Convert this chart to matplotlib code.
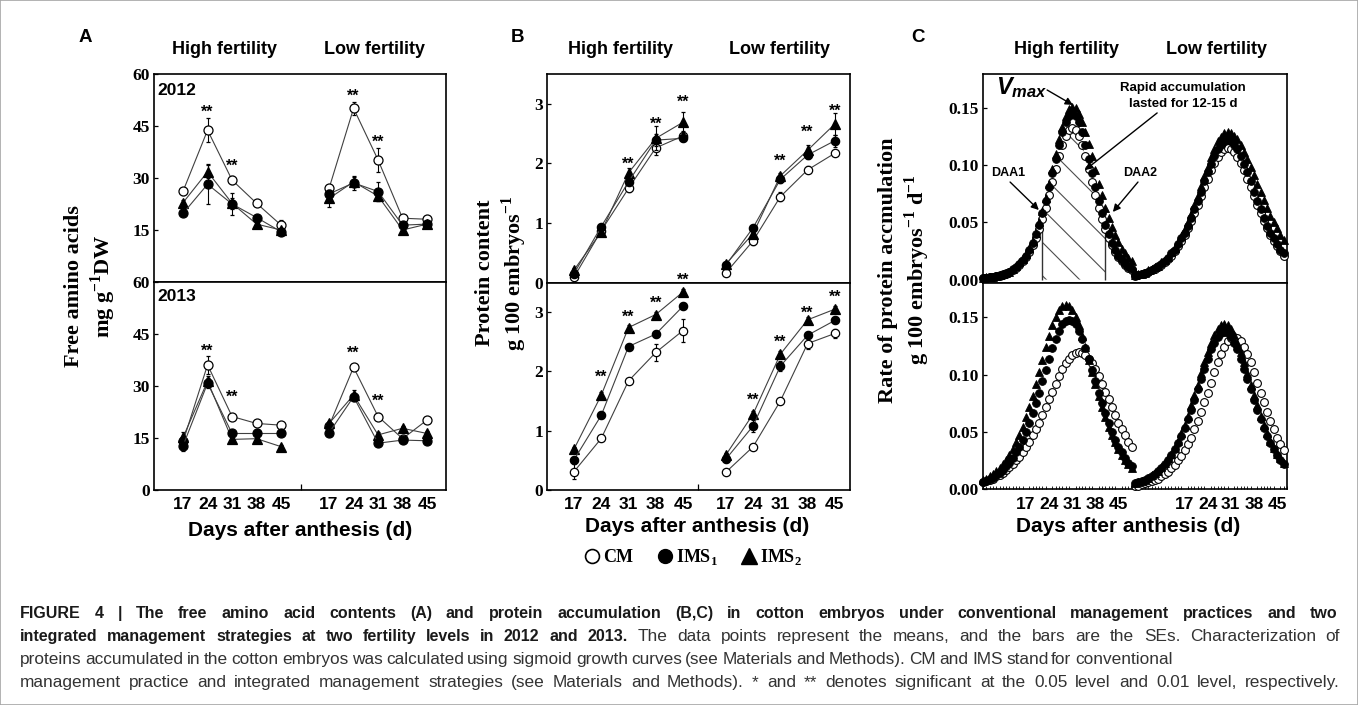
import numpy as np
import matplotlib
matplotlib.use('Agg')
import matplotlib.pyplot as plt
from matplotlib.lines import Line2D
from matplotlib.patches import Rectangle
from matplotlib.ticker import MultipleLocator

plt.rcParams['font.family'] = ['Liberation Sans', 'DejaVu Sans']
plt.rcParams['font.weight'] = 'bold'
plt.rcParams['mathtext.fontset'] = 'custom'
plt.rcParams['mathtext.it'] = 'Liberation Sans:bold:italic'
plt.rcParams['mathtext.rm'] = 'Liberation Sans:bold'
plt.rcParams['hatch.linewidth'] = 0.8

# ---------------- data ----------------
days = [17, 24, 31, 38, 45]

# A: free amino acids (mg g-1 DW)
a12_high_cm = [26.2, 43.8, 29.4, 22.7, 16.4]
a12_high_ims1 = [19.8, 28.2, 22.5, 18.6, 14.5]
a12_high_ims2 = [22.9, 31.8, 22.7, 16.7, 15.0]
a12_low_cm = [27.0, 50.1, 35.2, 18.4, 18.1]
a12_low_ims1 = [25.4, 28.6, 26.1, 16.4, 16.7]
a12_low_ims2 = [24.1, 28.9, 24.8, 15.0, 16.7]
a13_high_cm = [14.0, 36.1, 21.2, 19.2, 18.7]
a13_high_ims1 = [12.8, 30.8, 16.3, 16.3, 16.3]
a13_high_ims2 = [15.2, 31.4, 14.6, 14.8, 12.5]
a13_low_cm = [18.5, 35.4, 21.2, 14.8, 20.2]
a13_low_ims1 = [16.5, 26.9, 13.5, 14.4, 14.2]
a13_low_ims2 = [19.2, 27.4, 15.9, 17.8, 16.3]

a12_high_cm_se = [1.0, 3.5, 1.2, 0.6, 1.5]
a12_high_ims1_se = [0.6, 5.8, 3.2, 0.8, 0.8]
a12_high_ims2_se = [0.8, 1.9, 1.5, 0.8, 0.5]
a12_low_cm_se = [1.0, 1.8, 3.4, 0.8, 0.8]
a12_low_ims1_se = [1.0, 2.0, 2.8, 0.8, 0.6]
a12_low_ims2_se = [2.5, 1.5, 1.5, 1.0, 0.6]
a13_high_cm_se = [1.0, 2.5, 0.8, 0.8, 0.8]
a13_high_ims1_se = [1.5, 1.5, 0.8, 0.8, 0.6]
a13_high_ims2_se = [1.5, 1.5, 1.0, 1.0, 0.6]
a13_low_cm_se = [0.8, 0.8, 1.0, 0.6, 0.8]
a13_low_ims1_se = [0.6, 1.2, 0.8, 0.6, 0.6]
a13_low_ims2_se = [0.8, 1.5, 0.8, 0.6, 0.8]

a_star_days = [24, 31]
a12_high_star_y = [50.4, 34.6]
a12_low_star_y = [54.8, 41.5]
a13_high_star_y = [41.2, 28.0]
a13_low_star_y = [40.6, 26.8]

# B: protein content (g 100 embryos-1)
b12_high_cm = [0.09, 0.87, 1.58, 2.26, 2.46]
b12_high_ims1 = [0.15, 0.94, 1.69, 2.39, 2.42]
b12_high_ims2 = [0.21, 0.85, 1.84, 2.42, 2.69]
b12_low_cm = [0.16, 0.70, 1.44, 1.89, 2.17]
b12_low_ims1 = [0.29, 0.92, 1.73, 2.14, 2.38]
b12_low_ims2 = [0.31, 0.82, 1.79, 2.22, 2.66]
b13_high_cm = [0.31, 0.87, 1.84, 2.32, 2.69]
b13_high_ims1 = [0.51, 1.26, 2.42, 2.63, 3.10]
b13_high_ims2 = [0.69, 1.60, 2.74, 2.96, 3.34]
b13_low_cm = [0.30, 0.73, 1.50, 2.47, 2.64]
b13_low_ims1 = [0.52, 1.08, 2.09, 2.61, 2.86]
b13_low_ims2 = [0.59, 1.28, 2.29, 2.87, 3.05]

b12_high_cm_se = [0.03, 0.05, 0.06, 0.12, 0.08]
b12_high_ims1_se = [0.03, 0.04, 0.05, 0.10, 0.05]
b12_high_ims2_se = [0.04, 0.05, 0.08, 0.20, 0.18]
b12_low_cm_se = [0.05, 0.07, 0.08, 0.06, 0.05]
b12_low_ims1_se = [0.03, 0.05, 0.06, 0.06, 0.10]
b12_low_ims2_se = [0.03, 0.05, 0.05, 0.08, 0.18]
b13_high_cm_se = [0.13, 0.04, 0.05, 0.15, 0.20]
b13_high_ims1_se = [0.04, 0.05, 0.05, 0.05, 0.05]
b13_high_ims2_se = [0.04, 0.05, 0.05, 0.05, 0.05]
b13_low_cm_se = [0.03, 0.05, 0.05, 0.10, 0.07]
b13_low_ims1_se = [0.04, 0.10, 0.08, 0.05, 0.05]
b13_low_ims2_se = [0.04, 0.05, 0.05, 0.05, 0.05]

b12_star_days = [31, 38, 45]
b12_high_star_y = [2.06, 2.73, 3.10]
b12_low_star_y = [2.11, 2.59, 2.95]
b13_star_days = [24, 31, 38, 45]
b13_high_star_y = [1.97, 2.99, 3.23, 3.61]
b13_low_star_y = [1.59, 2.56, 3.05, 3.32]

# C: rate of protein accumulation (g 100 embryos-1 d-1), one reading per day, days 5-50
c_days = np.arange(5, 51)
c12_high_cm = [.001, .001, .002, .002, .003, .003, .004, .005, .007, .008, .010, .013, .016, .020, .024, .030,
               .036, .044, .053, .063, .074, .085, .097, .108, .118, .126, .131, .133,
               .131, .126, .118, .108, .097, .085, .074, .063, .053, .044, .036, .030, .024, .020, .016, .013, .010, .008]
c12_high_ims1 = [.001, .001, .002, .002, .003, .004, .005, .006, .007, .009, .011, .014, .017, .021, .026, .032,
                 .040, .048, .058, .069, .081, .093, .106, .118, .129, .138, .143, .145,
                 .143, .138, .129, .118, .106, .093, .081, .069, .058, .048, .040, .032, .026, .021, .017, .014, .011, .009]
c12_high_ims2 = [.001, .002, .002, .002, .003, .004, .005, .006, .007, .009, .012, .015, .018, .022, .028, .034,
                 .041, .050, .060, .071, .084, .097, .110, .123, .134, .143, .149, .151,
                 .150, .145, .138, .129, .119, .108, .096, .084, .074, .063, .054, .046, .039, .033, .027, .023, .019, .016]
c12_low_cm = [.003, .004, .005, .006, .007, .008, .009, .011, .013, .015, .018, .021, .025, .029, .034, .039,
              .045, .051, .058, .065, .073, .081, .088, .096, .102, .107, .112, .114, .115,
              .114, .112, .107, .102, .096, .088, .081, .073, .065, .058, .051, .045, .039, .034, .029, .025, .021]
c12_low_ims1 = [.004, .004, .005, .006, .007, .008, .010, .012, .014, .016, .019, .023, .026, .031, .036, .041,
                .047, .054, .062, .069, .077, .086, .094, .101, .108, .114, .118, .121, .122,
                .121, .118, .114, .108, .101, .094, .086, .077, .069, .062, .054, .047, .041, .036, .031, .026, .023]
c12_low_ims2 = [.004, .005, .005, .006, .008, .009, .011, .012, .015, .017, .020, .024, .028, .033, .038, .044,
                .050, .057, .065, .073, .082, .091, .099, .107, .114, .121, .125, .128, .129,
                .128, .126, .123, .118, .112, .106, .099, .092, .084, .077, .070, .063, .056, .050, .045, .039, .035]
c13_high_cm = [.006, .007, .008, .009, .011, .012, .014, .017, .019, .022, .025, .028, .032, .037, .041, .047,
               .052, .058, .065, .072, .079, .085, .092, .099, .105, .110, .114, .117, .119, .120,
               .119, .117, .114, .110, .105, .099, .092, .085, .079, .072, .065, .058, .052, .047, .041, .037]
c13_high_ims1 = [.006, .007, .009, .010, .012, .014, .017, .020, .023, .027, .032, .037, .043, .050, .058, .066,
                 .075, .084, .094, .104, .114, .123, .131, .138, .144, .147, .148,
                 .147, .144, .138, .131, .123, .114, .104, .094, .084, .075, .066, .058, .050, .043, .037, .032, .027,
                 .023, .020]
c13_high_ims2 = [.008, .009, .011, .013, .016, .018, .022, .025, .030, .035, .041, .047, .054, .063, .072, .081,
                 .092, .102, .113, .124, .134, .143, .150, .156, .160, .161,
                 .160, .156, .150, .143, .134, .124, .113, .102, .092, .081, .072, .063, .054, .047, .041, .035, .030,
                 .025, .022, .018]
c13_low_cm = [.003, .003, .004, .005, .006, .007, .008, .009, .011, .013, .015, .018, .021, .025, .029, .034,
              .039, .045, .052, .059, .067, .076, .084, .093, .102, .111, .118, .124, .129, .132, .133,
              .132, .129, .124, .118, .111, .102, .093, .084, .076, .067, .059, .052, .045, .039, .034]
c13_low_ims1 = [.005, .006, .007, .008, .010, .011, .013, .016, .018, .022, .025, .030, .035, .040, .046, .053,
                .061, .069, .078, .087, .096, .105, .114, .122, .128, .133, .136, .137,
                .136, .133, .128, .122, .114, .105, .096, .087, .078, .069, .061, .053, .046, .040, .035, .030, .025,
                .022]
c13_low_ims2 = [.005, .006, .007, .008, .010, .012, .014, .016, .019, .023, .027, .031, .036, .042, .049, .056,
                .064, .073, .082, .091, .101, .111, .120, .128, .135, .140, .143, .144,
                .143, .140, .135, .128, .120, .111, .101, .091, .082, .073, .064, .056, .049, .042, .036, .031, .027,
                .023]

# ---------------- figure ----------------
W, H = 1358, 705
fig = plt.figure(figsize=(W / 100, H / 100), dpi=100)
fig.patches.append(Rectangle((0, 0), 1, 1, transform=fig.transFigure, fill=False, ec='0.65', lw=1.2))


def px_axes(left, top, right, bottom):
    return fig.add_axes([left / W, 1 - bottom / H, (right - left) / W, (bottom - top) / H])


def draw_group(ax, xs, cm, ims1, ims2, cm_se, ims1_se, ims2_se, ms):
    kw = dict(color='0.25', lw=0.8, ecolor='black', elinewidth=0.8, capsize=1.6, capthick=0.8,
              mec='black', mew=0.9)
    ax.errorbar(xs, cm, yerr=cm_se, fmt='-o', mfc='white', ms=ms, zorder=3, **kw)
    ax.errorbar(xs, ims2, yerr=ims2_se, fmt='-^', mfc='black', ms=ms + 0.8, zorder=4, **kw)
    ax.errorbar(xs, ims1, yerr=ims1_se, fmt='-o', mfc='black', ms=ms, zorder=5, **kw)


def stars(ax, xs, ys):
    for x, y in zip(xs, ys):
        ax.annotate('**', (x, y), xytext=(0, -6.5), textcoords='offset points', ha='center',
                    va='baseline', fontsize=11.5, fontweight='bold', annotation_clip=False, zorder=6)


def style(ax, xlim, ylim, yticks, ylabels, xticks=None, xlabels=None, mid=None):
    ax.set_xlim(xlim)
    ax.set_ylim(ylim)
    ax.set_yticks(yticks)
    ax.set_yticklabels(ylabels, fontfamily='Liberation Serif', fontweight='bold', fontsize=12.5)
    ax.tick_params(axis='y', direction='in', length=3, width=0.9, pad=3)
    for s in ax.spines.values():
        s.set_linewidth(1.2)
    if xticks is None:
        ax.tick_params(axis='x', bottom=False, labelbottom=False)
    else:
        ax.set_xticks(xticks)
        ax.set_xticklabels(xlabels, fontfamily='Liberation Sans', fontweight='bold', fontsize=12.5)
        ax.tick_params(axis='x', which='major', length=0, pad=5)
        if mid is not None:
            ax.set_xticks([mid], minor=True)
            ax.tick_params(axis='x', which='minor', direction='in', length=4, width=0.9)


lab5 = [str(d) for d in days]

# ---- Panel A ----
a_off, a_xlim, a_mid = 41.7, (8.7, 92.1), 50.7
axA1 = px_axes(154, 74, 446, 282)
axA2 = px_axes(154, 282, 446, 490)
xs1 = days
xs2 = [d + a_off for d in days]
draw_group(axA1, xs1, a12_high_cm, a12_high_ims1, a12_high_ims2, a12_high_cm_se, a12_high_ims1_se, a12_high_ims2_se, 6.5)
draw_group(axA1, xs2, a12_low_cm, a12_low_ims1, a12_low_ims2, a12_low_cm_se, a12_low_ims1_se, a12_low_ims2_se, 6.5)
draw_group(axA2, xs1, a13_high_cm, a13_high_ims1, a13_high_ims2, a13_high_cm_se, a13_high_ims1_se, a13_high_ims2_se, 6.5)
draw_group(axA2, xs2, a13_low_cm, a13_low_ims1, a13_low_ims2, a13_low_cm_se, a13_low_ims1_se, a13_low_ims2_se, 6.5)
stars(axA1, a_star_days, a12_high_star_y)
stars(axA1, [d + a_off for d in a_star_days], a12_low_star_y)
stars(axA2, a_star_days, a13_high_star_y)
stars(axA2, [d + a_off for d in a_star_days], a13_low_star_y)
style(axA1, a_xlim, (0, 60), [15, 30, 45, 60], ['15', '30', '45', '60'])
style(axA2, a_xlim, (0, 60), [0, 15, 30, 45, 60], ['0', '15', '30', '45', '60'], xs1 + xs2, lab5 + lab5, a_mid)
axA1.text(0.01, 0.923, '2012', transform=axA1.transAxes, fontsize=12.5, va='center')
axA2.text(0.01, 0.928, '2013', transform=axA2.transAxes, fontsize=12.5, va='center')

# ---- Panel B ----
b_off, b_xlim, b_mid = 39.0, (10.06, 87.9), 48.9
axB1 = px_axes(547, 74, 850, 282.5)
axB2 = px_axes(547, 282.5, 850, 490)
xb2 = [d + b_off for d in days]
draw_group(axB1, days, b12_high_cm, b12_high_ims1, b12_high_ims2, b12_high_cm_se, b12_high_ims1_se, b12_high_ims2_se, 6)
draw_group(axB1, xb2, b12_low_cm, b12_low_ims1, b12_low_ims2, b12_low_cm_se, b12_low_ims1_se, b12_low_ims2_se, 6)
draw_group(axB2, days, b13_high_cm, b13_high_ims1, b13_high_ims2, b13_high_cm_se, b13_high_ims1_se, b13_high_ims2_se, 6)
draw_group(axB2, xb2, b13_low_cm, b13_low_ims1, b13_low_ims2, b13_low_cm_se, b13_low_ims1_se, b13_low_ims2_se, 6)
stars(axB1, b12_star_days, b12_high_star_y)
stars(axB1, [d + b_off for d in b12_star_days], b12_low_star_y)
stars(axB2, b13_star_days, b13_high_star_y)
stars(axB2, [d + b_off for d in b13_star_days], b13_low_star_y)
style(axB1, b_xlim, (0, 3.5), [0, 1, 2, 3], ['0', '1', '2', '3'])
style(axB2, b_xlim, (0, 3.5), [0, 1, 2, 3], ['0', '1', '2', '3'], days + xb2, lab5 + lab5, b_mid)

# ---- Panel C ----
c_off = 46
axC1 = px_axes(983, 74, 1287, 283)
axC2 = px_axes(983, 283, 1287, 489)
cx2 = c_days + c_off


def draw_rate(ax, xs, cm, ims1, ims2):
    ax.plot(xs, cm, 'o', ms=5.6, mfc='white', mec='black', mew=0.8, zorder=3, clip_on=False)
    ax.plot(xs, ims2, '^', ms=6.2, mfc='black', mec='black', mew=0.6, zorder=4, clip_on=False)
    ax.plot(xs, ims1, 'o', ms=5.6, mfc='black', mec='black', mew=0.6, zorder=5, clip_on=False)


draw_rate(axC1, c_days, c12_high_cm, c12_high_ims1, c12_high_ims2)
draw_rate(axC1, cx2, c12_low_cm, c12_low_ims1, c12_low_ims2)
draw_rate(axC2, c_days, c13_high_cm, c13_high_ims1, c13_high_ims2)
draw_rate(axC2, cx2, c13_low_cm, c13_low_ims1, c13_low_ims2)

# hatched rapid-accumulation area between DAA1 and DAA2
i1, i2 = 18, 37
axC1.fill_between(c_days[i1:i2 + 1], 0, c12_high_cm[i1:i2 + 1], facecolor='none', edgecolor='0.3',
                  hatch='\\', linewidth=0, zorder=1)
axC1.vlines([c_days[i1], c_days[i2]], 0, [c12_high_cm[i1], c12_high_cm[i2]], color='0.2', lw=1, zorder=2)

c_tick1 = [d + 1 for d in days]
c_tick2 = [d + 49 for d in days]
style(axC1, (5, 97), (-0.003, 0.18), [0, 0.05, 0.10, 0.15], ['0.00', '0.05', '0.10', '0.15'])
style(axC2, (5, 97), (0, 0.18), [0, 0.05, 0.10, 0.15], ['0.00', '0.05', '0.10', '0.15'], c_tick1 + c_tick2, lab5 + lab5)
axC2.xaxis.set_minor_locator(MultipleLocator(1))
axC2.tick_params(axis='x', which='minor', direction='in', length=2.5, width=0.6)
axC2.tick_params(axis='x', which='major', pad=6)

arrow = dict(arrowstyle='-|>', color='black', lw=1.0, mutation_scale=11, shrinkA=0, shrinkB=0)
axC1.text(16.8, 0.1677, r'$V_{max}$', fontsize=17, ha='center', va='center')
axC1.annotate('', xy=(32.2, 0.1529), xytext=(24.4, 0.166), arrowprops=arrow)
axC1.text(65.5, 0.1607, 'Rapid accumulation\nlasted for 12-15 d', fontsize=9.5, ha='center', va='center',
          linespacing=1.35)
axC1.annotate('', xy=(35.9, 0.0959), xytext=(57.7, 0.1459), arrowprops=arrow)
axC1.text(12.6, 0.0933, 'DAA1', fontsize=9, ha='center', va='center')
axC1.annotate('', xy=(21.9, 0.0609), xytext=(13.2, 0.0854), arrowprops=arrow)
axC1.text(52.5, 0.0933, 'DAA2', fontsize=9, ha='center', va='center')
axC1.annotate('', xy=(44.3, 0.0592), xytext=(51.9, 0.0854), arrowprops=arrow)


# ---- titles, labels ----
def ftext(x, y, s, **kw):
    return fig.text(x / W, 1 - y / H, s, **kw)


for x, s in [(225, 'High fertility'), (375, 'Low fertility'), (620, 'High fertility'), (780, 'Low fertility'),
             (1067, 'High fertility'), (1217, 'Low fertility')]:
    ftext(x, 50, s, fontsize=13, ha='center', va='center')
for x, s in [(85, 'A'), (518, 'B'), (918, 'C')]:
    ftext(x, 37, s, fontsize=13.5, ha='center', va='center')
for x, y in [(300, 531), (697, 526), (1128, 527)]:
    ftext(x, y, 'Days after anthesis (d)', fontsize=15, ha='center', va='center')

serif = dict(fontfamily='Liberation Serif', fontweight='bold', fontsize=16, rotation=90,
             ha='center', va='center', multialignment='center', linespacing=1.25)
ftext(91, 286, 'Free amino acids\nmg g$^{\\mathregular{-1}}$DW', **serif)
ftext(502, 273, 'Protein content\ng 100 embryos$^{\\mathregular{-1}}$', **serif)
ftext(905, 270, 'Rate of protein accmulation\ng 100 embryos$^{\\mathregular{-1}}$ d$^{\\mathregular{-1}}$', **serif)

handles = [Line2D([], [], ls='none', marker='o', ms=10, mfc='white', mec='black', mew=1.2),
           Line2D([], [], ls='none', marker='o', ms=10, mfc='black', mec='black'),
           Line2D([], [], ls='none', marker='^', ms=11, mfc='black', mec='black')]
fig.legend(handles, ['CM', 'IMS$_\\mathregular{1}$', 'IMS$_\\mathregular{2}$'], loc='center',
           bbox_to_anchor=(693 / W, 1 - 557 / H), ncol=3, frameon=False, handlelength=0.9,
           handletextpad=0.15, columnspacing=1.3,
           prop=dict(family='Liberation Serif', weight='bold', size=13))

# ---- caption (justified like the journal layout, one text per word) ----
cap1 = ('FIGURE 4 | The free amino acid contents (A) and protein accumulation (B,C) in cotton embryos '
        'under conventional management practices and two')
cap2b = 'integrated management strategies at two fertility levels in 2012 and 2013.'
cap2r = 'The data points represent the means, and the bars are the SEs. Characterization of'
cap3 = ('proteins accumulated in the cotton embryos was calculated using sigmoid growth curves '
        '(see Materials and Methods). CM and IMS stand for conventional')
cap4 = ('management practice and integrated management strategies (see Materials and Methods). '
        '* and ** denotes significant at the 0.05 level and 0.01 level, respectively.')
size_b, size_r = 11.5, 12.4
renderer = fig.canvas.get_renderer()


def caption_line(y, parts, x0=20, x1=None):
    words = []
    for text, weight, color in parts:
        size = size_b if weight == 'bold' else size_r
        for w in text.split():
            words.append(ftext(x0, y, w, fontsize=size, fontweight=weight, va='baseline', color=color))
    widths = [t.get_window_extent(renderer).width for t in words]
    gap = 3.5 if x1 is None else (x1 - x0 - sum(widths)) / (len(words) - 1)
    x = x0
    for t, w in zip(words, widths):
        t.set_x(round(x) / W)
        x += w + gap


caption_line(618, [(cap1, 'bold', '#1a1a1a')], 20, 1338)
caption_line(641, [(cap2b, 'bold', '#1a1a1a'), (cap2r, 'normal', '#333333')], 20, 1340)
caption_line(664, [(cap3, 'normal', '#333333')])
caption_line(687, [(cap4, 'normal', '#333333')], 20, 1340)

fig.savefig('out.png', dpi=100)
